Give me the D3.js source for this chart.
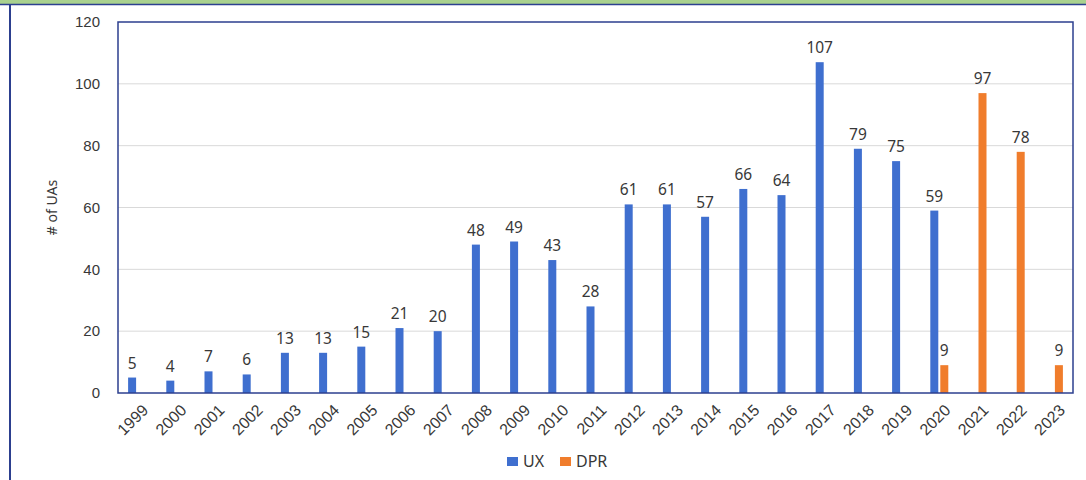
<!DOCTYPE html>
<html><head><meta charset="utf-8">
<script src="https://cdn.jsdelivr.net/npm/d3@7"></script>
<style>body{margin:0;background:#fff;}svg{display:block;font-family:"Noto Sans","Open Sans",sans-serif;}</style>
</head><body>
<svg id="c" width="1086" height="480"></svg>
<script>
const years = ["1999","2000","2001","2002","2003","2004","2005","2006","2007","2008","2009","2010","2011","2012","2013","2014","2015","2016","2017","2018","2019","2020","2021","2022","2023"];
const uxValues = [5,4,7,6,13,13,15,21,20,48,49,43,28,61,61,57,66,64,107,79,75,59,null,null,null];
const dprValues = [null,null,null,null,null,null,null,null,null,null,null,null,null,null,null,null,null,null,null,null,null,9,97,78,9];
const seriesNames = ["UX","DPR"];
const seriesColors = ["#3f6fcf","#f07d2c"];
const yTicks = [0,20,40,60,80,100,120];

const svg = d3.select("#c");
const txt = "#383838";
// frame
svg.append("rect").attr("x",0).attr("y",0).attr("width",1086).attr("height",4).attr("fill","#a9d18e");
svg.append("line").attr("x1",0).attr("x2",1086).attr("y1",4.5).attr("y2",4.5).attr("stroke","#2c3f8f").attr("stroke-width",1.5);
svg.append("line").attr("x1",10).attr("x2",10).attr("y1",4).attr("y2",480).attr("stroke","#2c3f8f").attr("stroke-width",2);

const L=118,R=1073,T=22,B=393;
const x = d3.scaleBand().domain(years).range([L,R]);
const y = d3.scaleLinear().domain([0,120]).range([B,T]);

// gridlines
svg.append("g").selectAll("line").data(yTicks.filter(d=>d>0&&d<120)).join("line")
  .attr("x1",L).attr("x2",R).attr("y1",d=>y(d)).attr("y2",d=>y(d)).attr("stroke","#d9d9d9").attr("stroke-width",1);

// y axis labels
const yAxis = d3.axisLeft(y).tickValues(yTicks).tickSize(0).tickPadding(18);
const ga = svg.append("g").attr("transform",`translate(${L},0)`).call(yAxis);
ga.select(".domain").remove();
ga.selectAll("text").attr("font-size",15).attr("fill",txt).style("font-family","inherit");

// bars
const barW = 8, off = 5;
const series = [uxValues, dprValues];
series.forEach((vals,si)=>{
  const data = years.map((yr,i)=>({yr,v:vals[i]})).filter(d=>d.v!=null);
  const cx = d=> x(d.yr)+x.bandwidth()/2 + (si===0?-off:off);
  svg.append("g").selectAll("rect").data(data).join("rect")
    .attr("x",d=>cx(d)-barW/2).attr("width",barW)
    .attr("y",d=>y(d.v)).attr("height",d=>y(0)-y(d.v))
    .attr("fill",seriesColors[si]);
  svg.append("g").selectAll("text").data(data).join("text")
    .attr("x",d=>cx(d)).attr("y",d=>y(d.v)-9)
    .attr("text-anchor","middle").attr("font-size",15.5).attr("fill",txt)
    .text(d=>d.v);
});

// plot border
svg.append("rect").attr("x",L).attr("y",T).attr("width",R-L).attr("height",B-T)
  .attr("fill","none").attr("stroke","#2c3f8f").attr("stroke-width",1.5);

// x axis labels
const gx = svg.append("g").attr("transform",`translate(0,${B})`).call(d3.axisBottom(x).tickSize(0));
gx.select(".domain").remove();
gx.selectAll("text").attr("font-size",16).attr("fill",txt).style("font-family","inherit")
  .attr("text-anchor","end").attr("dy",0).attr("dx",0)
  .attr("transform","translate(10,16) rotate(-45)");

// y title
svg.append("text").attr("transform",`translate(57,${(T+B)/2}) rotate(-90)`)
  .attr("text-anchor","middle").attr("font-size",14).attr("fill",txt).text("# of UAs");

// legend
const lg = svg.append("g").attr("transform","translate(507,461)");
seriesNames.forEach((n,i)=>{
  const gx0 = i*53;
  lg.append("rect").attr("x",gx0).attr("y",-4).attr("width",11).attr("height",9).attr("fill",seriesColors[i]);
  lg.append("text").attr("x",gx0+16).attr("y",6).attr("font-size",16).attr("fill",txt).text(n);
});
</script>
</body></html>
